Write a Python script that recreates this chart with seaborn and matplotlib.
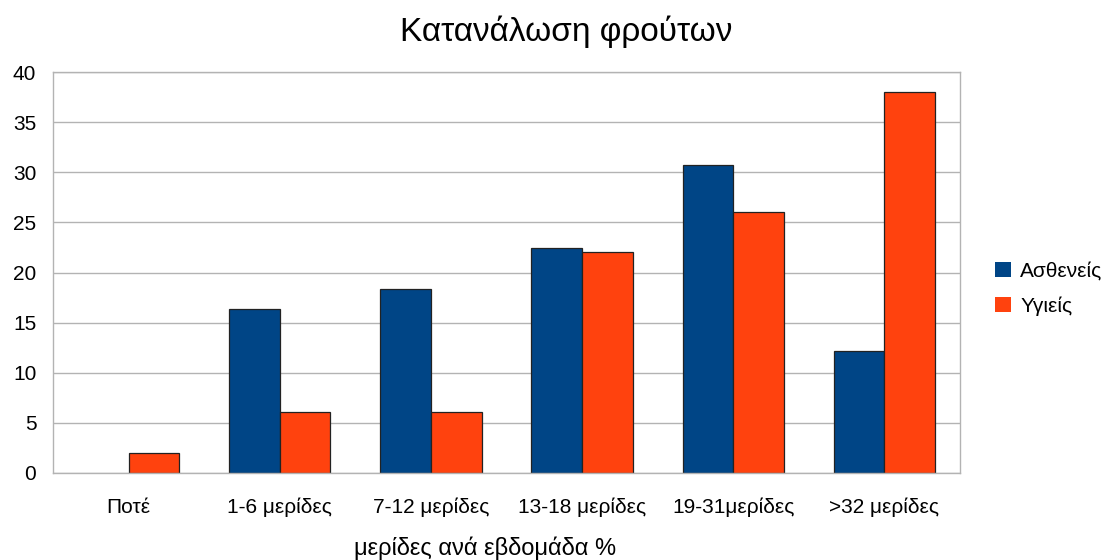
import matplotlib
matplotlib.use("Agg")
import matplotlib.pyplot as plt
import seaborn as sns
import pandas as pd
import numpy as np
from matplotlib.ticker import FixedLocator

categories = ["Ποτέ", "1-6 μερίδες", "7-12 μερίδες", "13-18 μερίδες", "19-31μερίδες", ">32 μερίδες"]
patients = [0, 16.4, 18.4, 22.4, 30.7, 12.2]
healthy = [2, 6.1, 6.1, 22, 26, 38]
series_names = ["Ασθενείς", "Υγιείς"]
y_ticks = [0, 5, 10, 15, 20, 25, 30, 35, 40]

df = pd.DataFrame({
    "cat": categories * 2,
    "value": patients + healthy,
    "group": [series_names[0]] * len(categories) + [series_names[1]] * len(categories),
})

sns.set_style("white")
plt.rcParams["font.family"] = ["Liberation Sans", "DejaVu Sans"]
plt.rcParams["text.color"] = "black"

fig = plt.figure(figsize=(11.12, 5.6), dpi=100)
ax = fig.add_axes([53 / 1112, 1 - 473 / 560, (960 - 53) / 1112, (473 - 72) / 560])

palette = {"Ασθενείς": "#004586", "Υγιείς": "#ff420e"}
sns.barplot(data=df, x="cat", y="value", hue="group", order=categories,
            hue_order=series_names, palette=palette, width=0.67, gap=0,
            edgecolor="#222222", linewidth=0.9, saturation=1, ax=ax, legend=True)

# empty bars should leave no outline on the baseline
for bar in ax.patches:
    if bar.get_height() == 0:
        bar.set_linewidth(0)

ax.set_ylim(0, 40)
ax.set_xlim(-0.5, len(categories) - 0.5)
ax.set_yticks(y_ticks)
ax.yaxis.grid(True, color="#b3b3b3", linewidth=1)
ax.set_axisbelow(True)
ax.tick_params(axis="y", length=9, width=1, color="#b3b3b3", labelsize=15, pad=3,
               labelcolor="black")
ax.tick_params(axis="x", which="major", length=0, labelsize=15, pad=28.5, labelcolor="black")
# align category names on a common baseline
for lbl in ax.get_xticklabels():
    lbl.set_verticalalignment("baseline")
ax.xaxis.set_minor_locator(FixedLocator(np.arange(-0.5, len(categories), 1.0)))
ax.tick_params(axis="x", which="minor", length=7, width=1.5, color="#b3b3b3", direction="out")

for side in ["left", "right", "top", "bottom"]:
    ax.spines[side].set_color("#b3b3b3")
    ax.spines[side].set_linewidth(1)

ax.set_xlabel("μερίδες ανά εβδομάδα %", fontsize=17, color="black")
ax.xaxis.set_label_coords(0.476, -0.158)
ax.set_ylabel("")
fig.suptitle("Κατανάλωση φρούτων", fontsize=24, x=0.509, y=0.972, color="black")

handles, labels = ax.get_legend_handles_labels()
ax.legend(handles, labels, loc="center left", bbox_to_anchor=(1.018, 0.46),
          frameon=False, fontsize=15, handlelength=0.75, handleheight=0.75,
          handletextpad=0.45, labelspacing=0.75)

fig.savefig("out.png", dpi=100)
